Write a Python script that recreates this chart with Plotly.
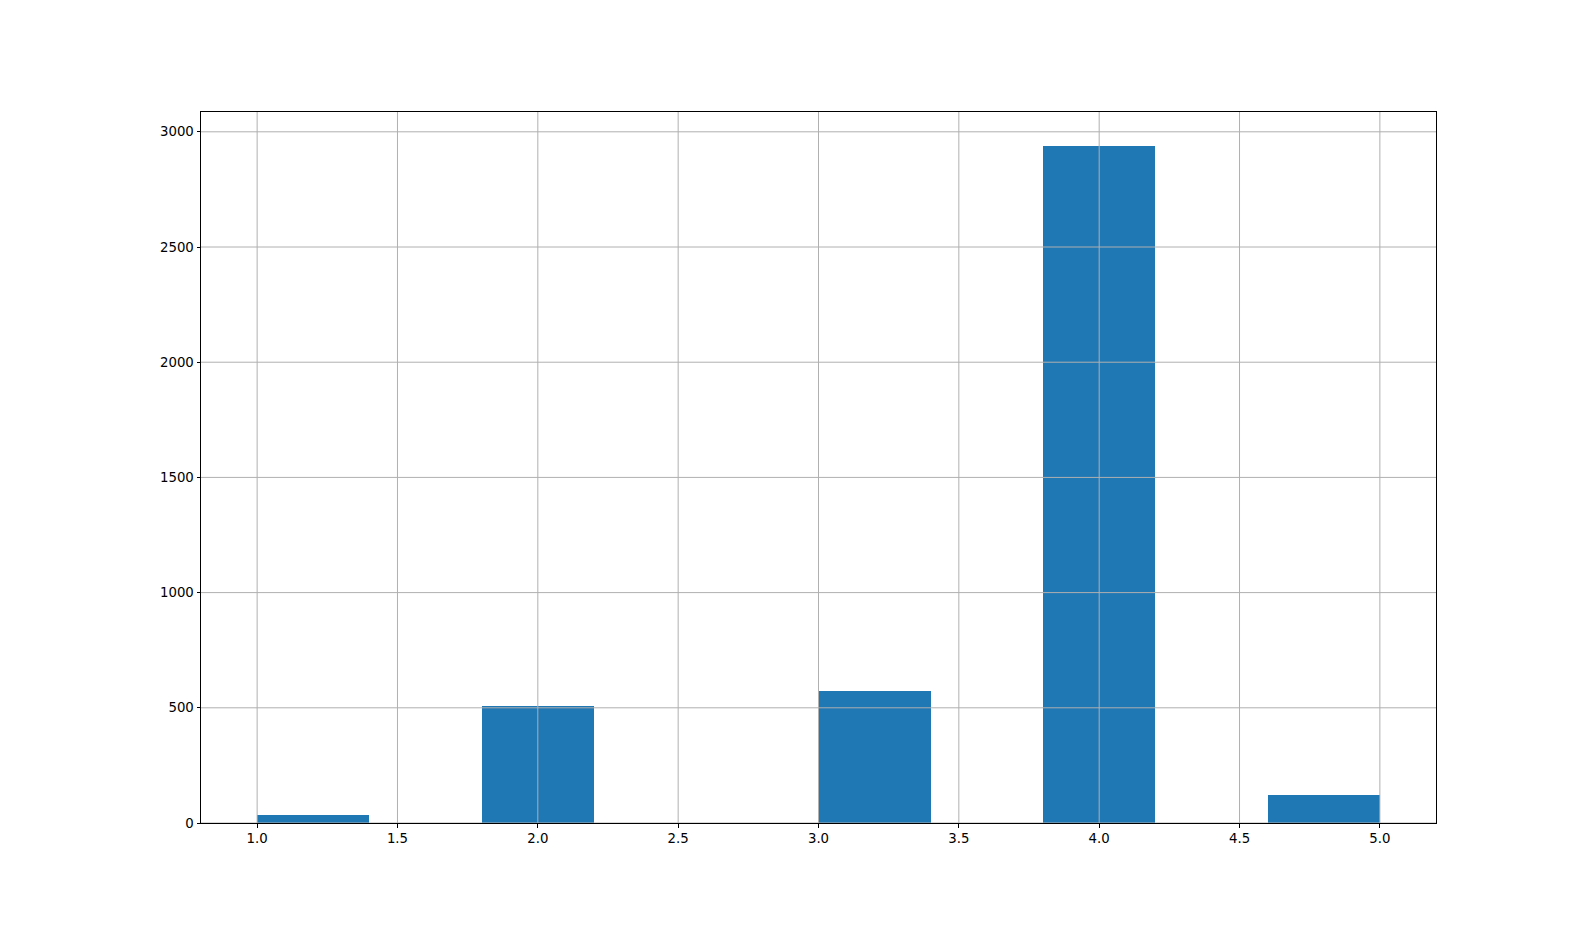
import plotly.graph_objects as go

bin_edges = [1.0, 1.4, 1.8, 2.2, 2.6, 3.0, 3.4, 3.8, 4.2, 4.6, 5.0]
counts = [36, 0, 510, 0, 0, 575, 0, 2939, 0, 123]
x_ticks = [1.0, 1.5, 2.0, 2.5, 3.0, 3.5, 4.0, 4.5, 5.0]
x_tick_labels = ["1.0", "1.5", "2.0", "2.5", "3.0", "3.5", "4.0", "4.5", "5.0"]
y_ticks = [0, 500, 1000, 1500, 2000, 2500, 3000]

centers = [(a + b) / 2 for a, b in zip(bin_edges[:-1], bin_edges[1:])]
widths = [b - a for a, b in zip(bin_edges[:-1], bin_edges[1:])]

fig = go.Figure(go.Bar(x=centers, y=counts, width=widths,
                       marker=dict(color="#1f77b4", line=dict(width=0))))

axis_common = dict(
    showgrid=False,
    showline=True, linecolor="black", linewidth=1, mirror=True,
    ticks="outside", ticklen=3.5, tickwidth=1, tickcolor="black",
    tickfont=dict(family="DejaVu Sans", size=13.3, color="black"),
    zeroline=False, layer="above traces",
)

grid_style = dict(color="#b0b0b0", width=1)
shapes = []
for xv in x_ticks:
    shapes.append(dict(type="line", xref="x", yref="paper", x0=xv, x1=xv,
                       y0=0, y1=1, line=grid_style, layer="above"))
for yv in y_ticks:
    shapes.append(dict(type="line", xref="paper", yref="y", x0=0, x1=1,
                       y0=yv, y1=yv, line=grid_style, layer="above"))

fig.update_layout(
    width=1596, height=925,
    margin=dict(l=192.5, r=168, t=103.7, b=109.7),
    paper_bgcolor="white", plot_bgcolor="white",
    showlegend=False, bargap=0,
    shapes=shapes,
    xaxis=dict(range=[0.8, 5.2], tickmode="array",
               tickvals=x_ticks, ticktext=x_tick_labels,
               **axis_common),
    yaxis=dict(range=[0, 3086], tickmode="array",
               tickvals=y_ticks,
               **axis_common),
)

fig.write_html("out.html")
